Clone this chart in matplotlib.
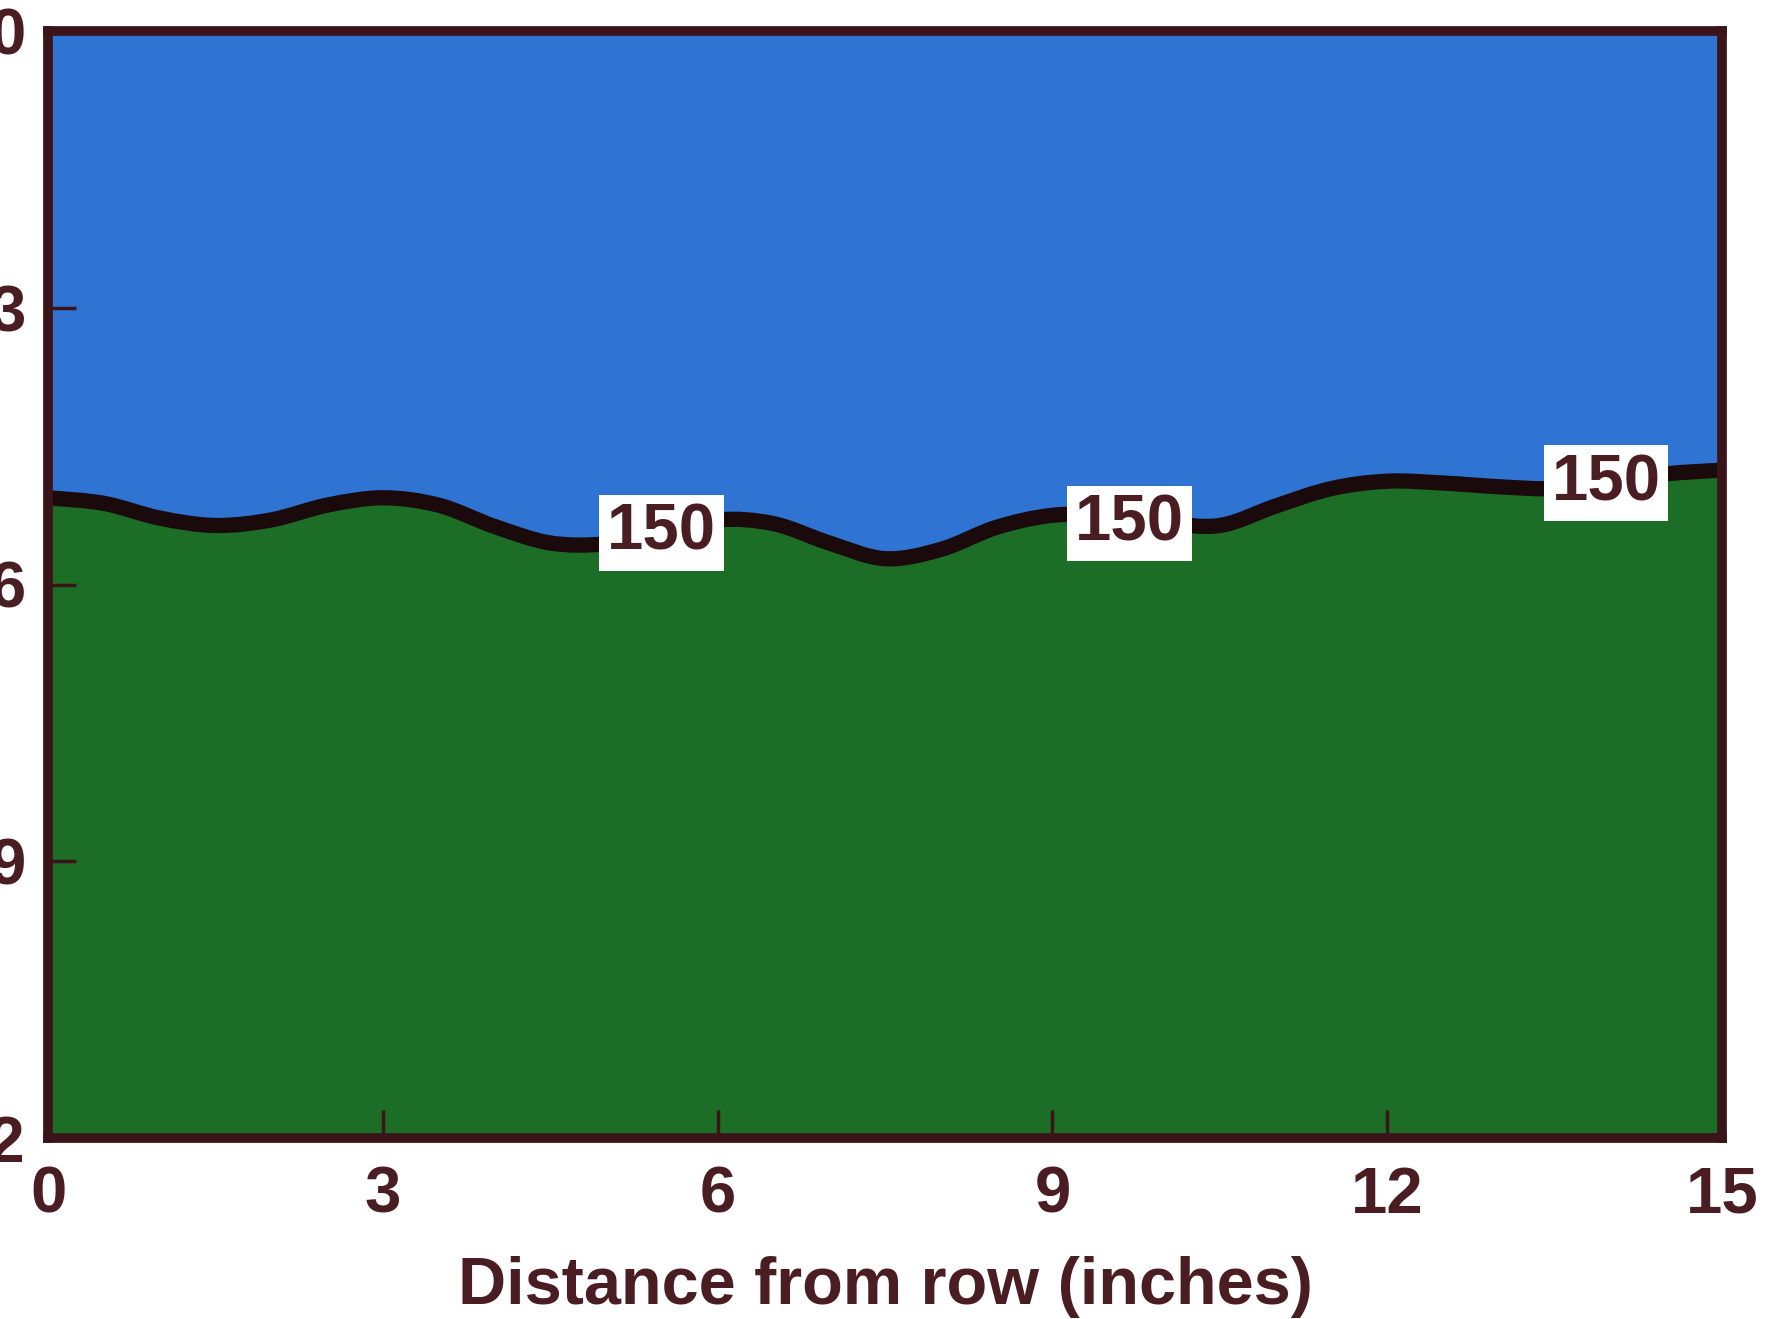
import numpy as np
import matplotlib
matplotlib.use("Agg")
import matplotlib.pyplot as plt
from matplotlib.path import Path
from matplotlib.patches import PathPatch

# ---- data ----
distance = [0.0, 0.5, 1.0, 1.5, 2.0, 2.5, 3.0, 3.5, 4.0, 4.5, 5.0, 5.5, 6.0, 6.5, 7.0,
            7.5, 8.0, 8.5, 9.0, 9.5, 10.0, 10.5, 11.0, 11.5, 12.0, 12.5, 13.0, 13.5,
            14.0, 14.5, 15.0]
depth_150 = [5.06, 5.12, 5.28, 5.36, 5.30, 5.14, 5.06, 5.14, 5.37, 5.55, 5.56, 5.45,
             5.30, 5.34, 5.55, 5.72, 5.62, 5.38, 5.25, 5.25, 5.33, 5.36, 5.15, 4.96,
             4.88, 4.90, 4.94, 4.96, 4.88, 4.80, 4.76]
x_ticks = [0, 3, 6, 9, 12, 15]
y_ticks = [0, 3, 6, 9, 12]
contour_labels = ["150", "150", "150"]
label_x = [5.50, 9.69, 13.96]
label_depth = [5.44, 5.34, 4.90]
x_label = "Distance from row (inches)"

BLUE = "#2f74d3"
GREEN = "#1c6e26"
FRAME = "#3a1418"
TEXT = "#4a1d22"
LINE = "#1a0a0c"

plt.rcParams['font.family'] = ['Liberation Sans', 'DejaVu Sans']


def smooth_path(xs, ys):
    pts = np.column_stack([xs, ys]).astype(float)
    n = len(pts)
    verts = [pts[0]]
    codes = [Path.MOVETO]
    for i in range(n - 1):
        p0 = pts[max(i - 1, 0)]
        p1 = pts[i]
        p2 = pts[i + 1]
        p3 = pts[min(i + 2, n - 1)]
        c1 = p1 + (p2 - p0) / 6.0
        c2 = p2 - (p3 - p1) / 6.0
        verts += [c1, c2, p2]
        codes += [Path.CURVE4] * 3
    return verts, codes


fig = plt.figure(figsize=(17.76, 13.19), dpi=100)
fig.patch.set_facecolor("white")
ax = fig.add_axes([48 / 1776, 1 - 1138 / 1319, (1722 - 48) / 1776, (1138 - 31) / 1319])
ax.set_facecolor(BLUE)
ax.set_xlim(0, 15)
ax.set_ylim(12, 0)

verts, codes = smooth_path(distance, depth_150)
gverts = list(verts) + [(distance[-1], 12), (distance[0], 12), (distance[0], depth_150[0])]
gcodes = list(codes) + [Path.LINETO, Path.LINETO, Path.CLOSEPOLY]
ax.add_patch(PathPatch(Path(gverts, gcodes), facecolor=GREEN, edgecolor="none", zorder=1))
ax.add_patch(PathPatch(Path(verts, codes), facecolor="none", edgecolor=LINE,
                       lw=11, capstyle="butt", zorder=2))

for lab, lx, ly in zip(contour_labels, label_x, label_depth):
    ax.text(lx, ly, lab, ha="center", va="center", fontsize=47, fontweight="bold",
            color=TEXT, zorder=5,
            bbox=dict(boxstyle="square,pad=0.12", facecolor="white", edgecolor="none"))

for s in ax.spines.values():
    s.set_color(FRAME)
    s.set_linewidth(7)
    s.set_zorder(6)

ax.set_xticks(x_ticks)
ax.set_yticks(y_ticks)
ax.set_xticklabels([str(v) for v in x_ticks])
ax.set_yticklabels([str(v) for v in y_ticks])
ax.tick_params(axis="both", direction="in", length=20, width=2.5, color=FRAME,
               labelsize=47, labelcolor=TEXT, top=False, right=False)
ax.tick_params(axis="x", pad=20)
ax.tick_params(axis="y", pad=16)
for t in ax.get_xticklabels() + ax.get_yticklabels():
    t.set_fontweight("bold")

ax.set_xlabel(x_label, fontsize=48, fontweight="bold", color=TEXT, labelpad=22)

fig.savefig("out.png", dpi=100, facecolor="white")
